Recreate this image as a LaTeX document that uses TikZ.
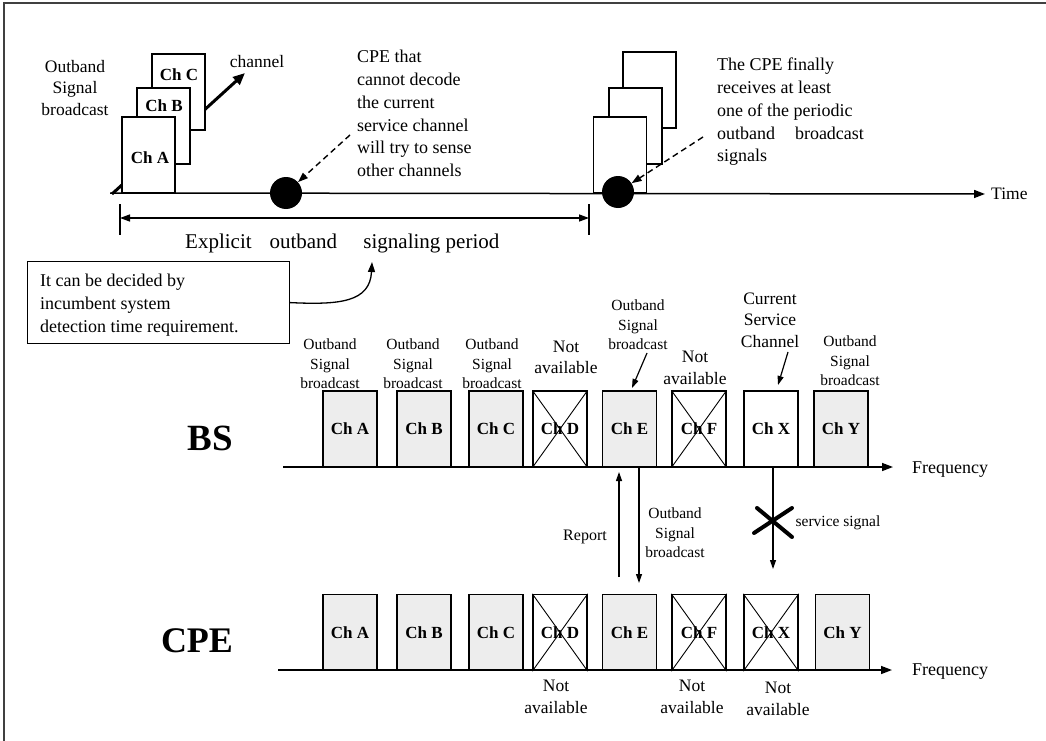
\documentclass[tikz,border=0pt]{standalone}
\usepackage{fontspec}
\setmainfont{Liberation Serif}
\usetikzlibrary{arrows.meta}
\begin{document}
\begin{tikzpicture}[x=1pt,y=-1pt,
 every node/.style={inner sep=0pt},
 chbox/.style={draw,line width=1.3pt,minimum width=54pt,minimum height=76pt,font=\fontsize{17}{20}\selectfont\bfseries},
 stackbox/.style={draw,fill=white,line width=1.2pt,minimum width=53pt,minimum height=76pt},
 shaded/.style={fill=black!7},
 xline/.style={line width=0.9pt},
 ax/.style={line width=1.5pt,-{Triangle[length=11pt,width=8pt]}},
 sm/.style={align=center,font=\fontsize{15.5}{19.5}\selectfont},
 md/.style={align=center,font=\fontsize{17.5}{21.5}\selectfont},
 tx/.style={align=left,font=\fontsize{18}{22.7}\selectfont},
 tipar/.style={line width=1.2pt,-{Triangle[length=9pt,width=6pt]}},
 dsh/.style={line width=1.4pt,dash pattern=on 6pt off 4pt,-{Triangle[length=10pt,width=7pt]}},
 bigl/.style={font=\fontsize{37}{40}\selectfont\bfseries},
 dot/.style={circle,fill=black,minimum size=32pt},
 ]
\useasboundingbox (0,0) rectangle (1046,741);
% frame
\draw[line width=1.5pt,black!75] (1046,3) -- (4,3) -- (4,741);

% ---------------- top part ----------------
\coordinate (ch0) at (112,194);
\coordinate (ch1) at (245,73);
\draw[line width=3pt,-{Triangle[length=12pt,width=10pt]}] (ch0) -- (ch1);
\node[stackbox] (tC) at (178.5,92) {};
\node[stackbox] (tB) at (163.5,126) {};
\node[stackbox] (tA) at (148.5,155) {};
\node[font=\fontsize{17}{20}\selectfont\bfseries] (lA) at (150,158) {Ch A};
\node[font=\fontsize{17}{20}\selectfont\bfseries] (lB) at (164,106) {Ch B};
\node[font=\fontsize{17}{20}\selectfont\bfseries] (lC) at (179,75) {Ch C};
\node[md] (obs) at (75,88) {Outband\\Signal\\broadcast};
\node[font=\fontsize{17.5}{20}\selectfont] (chn) at (257,62) {channel};

\node[stackbox] (rC) at (649.5,90) {};
\node[stackbox] (rB) at (635.5,126) {};
\node[stackbox] (rA) at (620,155) {};

% time axis
\coordinate (t0) at (110,193);
\node[font=\fontsize{17.5}{20}\selectfont,anchor=west] (time) at (991,194) {Time};
\draw[ax,shorten >=6pt] (t0) -- (time.west);

\node[dot] (c1) at (286,193) {};
\node[dot] (c2) at (618,192) {};

\node[tx,anchor=west] (cpet) at (357,113.5) {CPE that\\cannot decode\\the current\\service channel\\will try to sense\\other channels};
\node[tx,anchor=west] (fint) at (717,112) {The CPE finally\\receives at least\\one of the periodic\\outband\hspace{1.1em}broadcast\\signals};
\coordinate (d1) at (350,135);
\coordinate (d2) at (703,137);
\draw[dsh] (d1) -- (c1);
\draw[dsh] (d2) -- (c2);

% period
\coordinate (p0) at (120,218);
\coordinate (p1) at (589,218);
\draw[line width=1.3pt] (120,204) -- (120,235) (589,204) -- (589,235);
\draw[line width=1.3pt,{Triangle[length=10pt,width=7pt]}-{Triangle[length=10pt,width=7pt]}] (p0) -- (p1);
\node[font=\fontsize{21}{24}\selectfont,anchor=west] (per) at (185,243) {Explicit\hspace{0.6em} outband\hspace{1em} signaling period};

% callout
\node[draw,line width=1.2pt,minimum width=262pt,minimum height=82pt,anchor=north west] (call) at (27,261) {};
\node[tx,anchor=west] (callt) at (40,305) {It can be decided by\\incumbent system\\detection time requirement.};
\coordinate (cv1) at (372,262);
\draw[line width=1.3pt,-{Triangle[length=10pt,width=7pt]}] (call.east) .. controls (340,305) and (370,302) .. (cv1);

% ---------------- BS ----------------
\node[bigl] (BS) at (210,438) {BS};
\node[chbox,shaded] (bA) at (350,429) {Ch A};
\node[chbox,shaded] (bB) at (424,429) {Ch B};
\node[chbox,shaded] (bC) at (496,429) {Ch C};
\node[chbox] (bD) at (560,429) {Ch D};
\node[chbox,shaded] (bE) at (629.5,429) {Ch E};
\node[chbox] (bF) at (699,429) {Ch F};
\node[chbox] (bX) at (771,429) {Ch X};
\node[chbox,shaded] (bY) at (841,429) {Ch Y};
\draw[xline] (bD.north west) -- (bD.south east) (bD.north east) -- (bD.south west);
\draw[xline] (bF.north west) -- (bF.south east) (bF.north east) -- (bF.south west);
\coordinate (bs0) at (283,467);
\node[font=\fontsize{18}{20}\selectfont] (fq1) at (950,470) {Frequency};
\draw[ax] (bs0) -- (893,467) coordinate (bs1);

\node[sm] (lbA) at (330,364) {Outband\\Signal\\broadcast};
\node[sm] (lbB) at (413,364) {Outband\\Signal\\broadcast};
\node[sm] (lbC) at (492,364) {Outband\\Signal\\broadcast};
\node[md] (lbD) at (566,357.5) {Not\\available};
\node[sm] (lbE) at (638,325) {Outband\\Signal\\broadcast};
\node[md] (lbF) at (695,368) {Not\\available};
\node[md] (lbX) at (770,320) {Current\\Service\\Channel};
\node[sm] (lbY) at (850,361) {Outband\\Signal\\broadcast};
\coordinate (ea) at (647,353);
\coordinate (eb) at (632,388);
\draw[tipar] (ea) -- (eb);
\coordinate (xa) at (788,352);
\coordinate (xb) at (778,385);
\draw[tipar] (xa) -- (xb);

% ---------------- between ----------------
\coordinate (r0) at (619,577);
\coordinate (r1) at (619,472);
\draw[tipar] (r0) -- (r1);
\node[font=\fontsize{16}{19}\selectfont] (rep) at (585,537) {Report};
\coordinate (o0) at (639,467);
\coordinate (o1) at (639,583);
\draw[tipar] (o0) -- (o1);
\node[sm] (obl) at (675,533) {Outband\\Signal\\broadcast};
\coordinate (s0) at (773,467);
\coordinate (s1) at (773,569);
\draw[tipar] (s0) -- (s1);
\draw[line width=4pt,line cap=round] (754,533) -- (792,508) (757,508) -- (792,537);
\node[font=\fontsize{15.5}{19}\selectfont] (ssg) at (838,523) {service signal};

% ---------------- CPE ----------------
\node[font=\fontsize{36}{40}\selectfont\bfseries] (CPE) at (197,641) {CPE};
\node[chbox,shaded] (cA) at (350,632.5) {Ch A};
\node[chbox,shaded] (cB) at (424,632.5) {Ch B};
\node[chbox,shaded] (cC) at (496,632.5) {Ch C};
\node[chbox] (cD) at (560,632.5) {Ch D};
\node[chbox,shaded] (cE) at (629.5,632.5) {Ch E};
\node[chbox] (cF) at (699,632.5) {Ch F};
\node[chbox] (cX) at (771,632.5) {Ch X};
\node[chbox,shaded] (cY) at (842.5,632.5) {Ch Y};
\draw[xline] (cD.north west) -- (cD.south east) (cD.north east) -- (cD.south west);
\draw[xline] (cF.north west) -- (cF.south east) (cF.north east) -- (cF.south west);
\draw[xline] (cX.north west) -- (cX.south east) (cX.north east) -- (cX.south west);
\coordinate (cs0) at (278,670);
\node[font=\fontsize{18}{20}\selectfont] (fq2) at (950,672) {Frequency};
\draw[ax] (cs0) -- (892,670) coordinate (cs1);

\node[md] (ldD) at (556,697) {Not\\available};
\node[md] (ldF) at (692,697) {Not\\available};
\node[md] (ldX) at (778,699) {Not\\available};
\end{tikzpicture}
\end{document}
